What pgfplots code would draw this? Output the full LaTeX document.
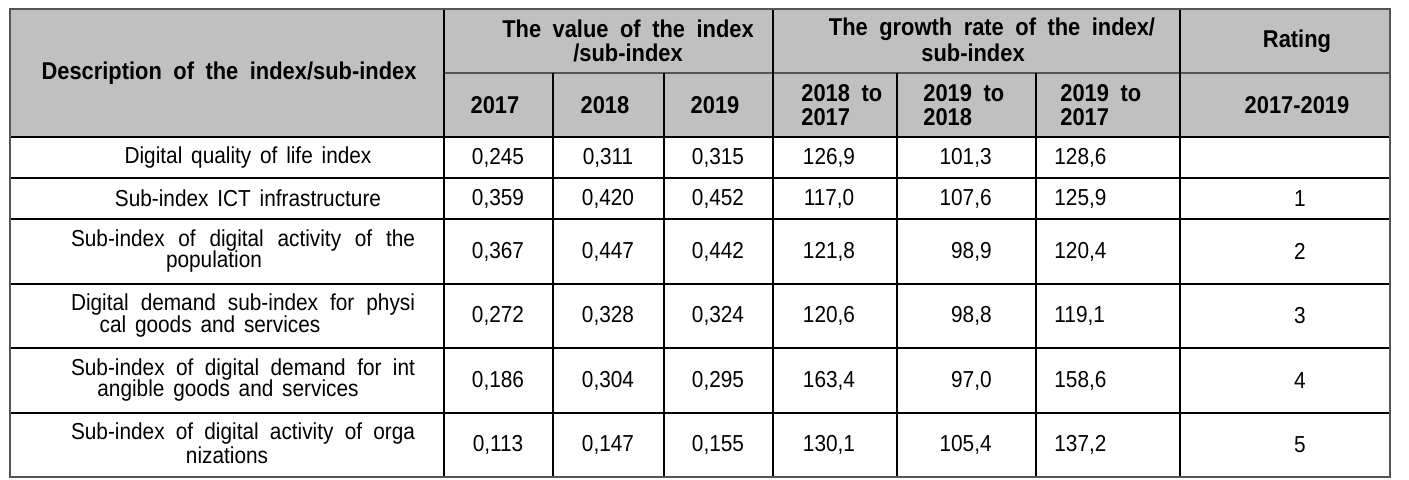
\documentclass[border=0pt]{standalone}
\usepackage{fontspec}
\setmainfont{Liberation Sans}[FakeStretch=0.9]
\usepackage{pgfplots}
\usepackage{pgfplotstable}
\pgfplotsset{compat=1.18}
\definecolor{hdr}{RGB}{192,192,192}
\definecolor{bord}{RGB}{85,85,85}
\newcommand{\tf}{\fontsize{11.6}{10.9}\selectfont\spaceskip=4.4bp plus 10bp\relax}
\newcommand{\hf}{\fontsize{12.2}{12}\selectfont\bfseries\spaceskip=5.75bp\relax}
\newcommand{\jl}[1]{\makebox[172bp][s]{#1}}
\pgfplotstableread{
y a b c d e f
157.5 0,245 0,311 0,315 126,9 101,3 128,6
198.5 0,359 0,420 0,452 117,0 107,6 125,9
251.5 0,367 0,447 0,442 121,8 98,9 120,4
316 0,272 0,328 0,324 120,6 98,8 119,1
380.5 0,186 0,304 0,295 163,4 97,0 158,6
445 0,113 0,147 0,155 130,1 105,4 137,2
}\vals
\begin{document}
\begin{tikzpicture}
\begin{axis}[width=704.5bp,height=240bp,scale only axis,
  xmin=0,xmax=1409,ymin=0,ymax=480,y dir=reverse,
  axis lines=none,clip=false,
  every node near coord/.append style={font=\tf,inner sep=0pt},
  txt/.style={draw=none,mark=none,nodes near coords,point meta=explicit symbolic}]
\path (axis cs:0,0) rectangle (axis cs:1409,480);
\fill[hdr] (axis cs:10,9) rectangle (axis cs:1390,137);
% inner lines
\pgfplotsinvokeforeach{137,178,219,284,348,413}{\draw[black,line width=0.7bp] (axis cs:10,#1) -- (axis cs:1390,#1);}
\draw[bord,line width=0.7bp] (axis cs:444,73) -- (axis cs:1390,73);
\pgfplotsinvokeforeach{444,773,1180}{\draw[black,line width=0.7bp] (axis cs:#1,9) -- (axis cs:#1,477);}
\pgfplotsinvokeforeach{553,664,897,1036}{\draw[black,line width=0.7bp] (axis cs:#1,73) -- (axis cs:#1,477);}
\draw[bord,line width=1.1bp] (axis cs:10,9) rectangle (axis cs:1390,477);
% header text
\begin{scope}[every node/.style={font=\hf,inner sep=0pt}]
\node at (axis cs:229,73) {Description of the index/sub-index};
\node at (axis cs:628,29) {The value of the index};
\node at (axis cs:628,53) {/sub-index};
\node at (axis cs:992,29) {The growth rate of the index/};
\node at (axis cs:973,53) {sub-index};
\node at (axis cs:1297,41) {Rating};
\node at (axis cs:495,105) {2017};
\node at (axis cs:605,105) {2018};
\node at (axis cs:715,105) {2019};
\node[align=left,anchor=west] at (axis cs:801,105) {2018 to\\2017};
\node[align=left,anchor=west] at (axis cs:923,105) {2019 to\\2018};
\node[align=left,anchor=west] at (axis cs:1060,105) {2019 to\\2017};
\node at (axis cs:1297,105) {2017-2019};
\end{scope}
\begin{scope}[every node/.style={font=\tf,inner sep=0pt}]
\node at (axis cs:248,157.5) {Digital quality of life index};
\node at (axis cs:248,198.5) {Sub-index ICT infrastructure};
\node at (axis cs:243,240.5) {\jl{Sub-index of digital activity of the}};
\node at (axis cs:214,262) {population};
\node at (axis cs:243,305) {\jl{Digital demand sub-index for physi}};
\node at (axis cs:210,326.5) {cal goods and services};
\node at (axis cs:243,369.5) {\jl{Sub-index of digital demand for int}};
\node at (axis cs:228,391) {angible goods and services};
\node at (axis cs:243,434) {\jl{Sub-index of digital activity of orga}};
\node at (axis cs:227,455.5) {nizations};
\end{scope}
\addplot[txt,nodes near coords style={anchor=center}] table[x expr=498,y=y,meta=a] {\vals};
\addplot[txt,nodes near coords style={anchor=center}] table[x expr=608,y=y,meta=b] {\vals};
\addplot[txt,nodes near coords style={anchor=center}] table[x expr=718,y=y,meta=c] {\vals};
\addplot[txt,nodes near coords style={anchor=center}] table[x expr=829,y=y,meta=d] {\vals};
\addplot[txt,nodes near coords style={anchor=east}] table[x expr=992,y=y,meta=e] {\vals};
\addplot[txt,nodes near coords style={anchor=west}] table[x expr=1054,y=y,meta=f] {\vals};
\addplot[txt,nodes near coords style={anchor=center}] coordinates {(1300,198.5) [1] (1300,251.5) [2] (1300,316) [3] (1300,380.5) [4] (1300,445) [5]};
\end{axis}
\end{tikzpicture}
\end{document}
